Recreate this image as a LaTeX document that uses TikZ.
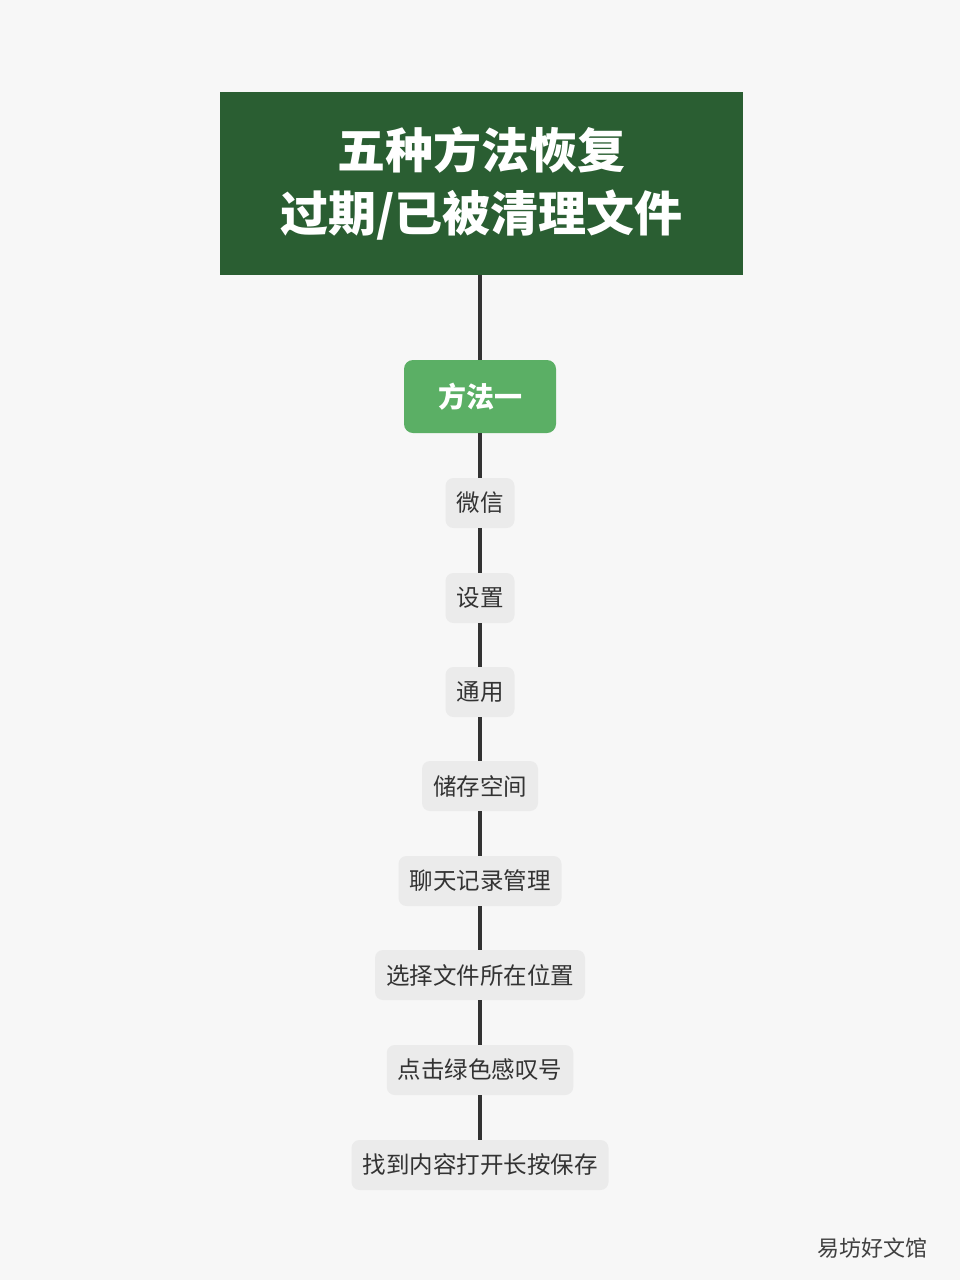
\documentclass[tikz,border=0pt]{standalone}
\usepackage{fontspec}
\newfontfamily\cjk{Noto Sans CJK SC}
\usetikzlibrary{calc}
\definecolor{bgcol}{HTML}{F7F7F7}
\definecolor{titlecol}{HTML}{2A5E32}
\definecolor{methodcol}{HTML}{5BAF65}
\definecolor{stepcol}{HTML}{EBEBEB}
\definecolor{linecol}{HTML}{333333}
\tikzset{
  stepbox/.style={fill=stepcol,rounded corners=8pt,minimum height=50pt,inner xsep=11pt,
    font=\cjk\fontsize{23.5}{27}\selectfont,text=black!80},
}
\begin{document}
\begin{tikzpicture}[x=1pt,y=-1pt]
    % Background and frame
    \fill[bgcol] (0,0) rectangle (960,1280);
    \useasboundingbox (0,0) rectangle (960,1280);

    % Title and method
    \node[fill=titlecol,minimum width=523pt,minimum height=183pt,align=center,text=white,
      font=\cjk\bfseries\fontsize{48}{63}\selectfont] (title) at (481.5,183.5) {五种方法恢复\\过期/已被清理文件};
    \node[fill=methodcol,rounded corners=9pt,minimum width=152pt,minimum height=73pt,text=white,
      font=\cjk\bfseries\fontsize{28}{30}\selectfont] (method) at (480,396.5) {方法一};

    % Steps
    \node[stepbox] (s1) at (480,503) {微信};
    \node[stepbox] (s2) at (480,598) {设置};
    \node[stepbox] (s3) at (480,692) {通用};
    \node[stepbox] (s4) at (480,786) {储存空间};
    \node[stepbox] (s5) at (480,881) {聊天记录管理};
    \node[stepbox] (s6) at (480,975) {选择文件所在位置};
    \node[stepbox] (s7) at (480,1070) {点击绿色感叹号};
    \node[stepbox] (s8) at (480,1165) {找到内容打开长按保存};

    % Connectors
    \begin{scope}[line width=4pt,linecol]
    \draw (method.north) -- (method.north |- title.south);
    \draw (method.south) -- (s1.north);
    \foreach \i/\j in {1/2,2/3,3/4,4/5,5/6,6/7,7/8}
      \draw (s\i.south) -- (s\j.north);
    \end{scope}

    % Watermark
    \node[text=black!75,font=\cjk\fontsize{22}{26}\selectfont] (mark) at (872,1248) {易坊好文馆};
\end{tikzpicture}
\end{document}
